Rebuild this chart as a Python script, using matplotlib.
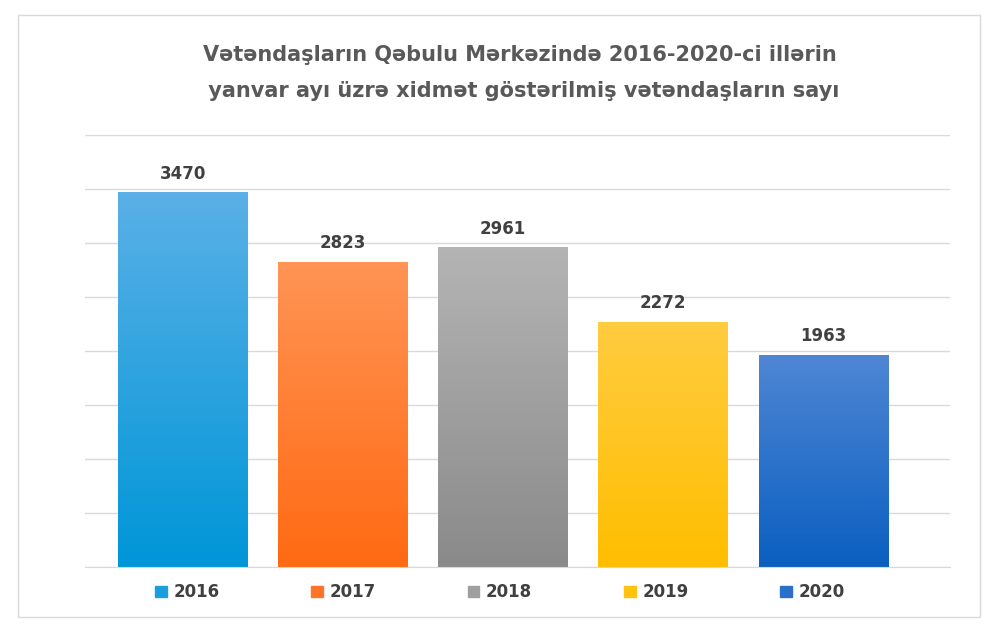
import matplotlib
matplotlib.use("Agg")
import matplotlib.pyplot as plt
import numpy as np
from matplotlib.patches import Rectangle, Patch

years = ["2016", "2017", "2018", "2019", "2020"]
values = [3470, 2823, 2961, 2272, 1963]
tops = ["#5ab0e6", "#ff9455", "#b4b4b4", "#ffcc40", "#4f86d4"]
bottoms = ["#0096d8", "#ff6a12", "#8a8a8a", "#ffbe00", "#0a5fc0"]
legend_cols = ["#1a9fde", "#ff7428", "#a0a0a0", "#ffc20e", "#2a6fcc"]

fig = plt.figure(figsize=(10, 6.37), dpi=100)
fig.patches.append(Rectangle((0.018, 0.031), 0.962, 0.945, transform=fig.transFigure,
                             fill=False, edgecolor="#d9d9d9", lw=1))
ax = fig.add_axes([0.085, 0.11, 0.865, 0.678])
ax.set_xlim(-0.61, 4.79)
ax.set_ylim(0, 4000)
ax.set_yticks(np.arange(0, 4001, 500))
ax.yaxis.grid(True, color="#d9d9d9", lw=1)
ax.set_axisbelow(True)
ax.tick_params(left=False, bottom=False, labelleft=False, labelbottom=False)
for s in ["top", "right", "left"]:
    ax.spines[s].set_visible(False)
ax.spines["bottom"].set_color("#d9d9d9")

w = 0.81
bars = ax.bar(range(len(values)), values, width=w, color="none")
for i, (b, v) in enumerate(zip(bars, values)):
    c1 = np.array(matplotlib.colors.to_rgb(tops[i]))
    c2 = np.array(matplotlib.colors.to_rgb(bottoms[i]))
    t = np.linspace(0, 1, 100)[:, None]
    grad = (c1 * (1 - t) + c2 * t)[:, None, :]
    im = ax.imshow(grad, extent=[i - w / 2, i + w / 2, 0, v], aspect="auto", zorder=2)
    im.set_clip_path(b)
    ax.text(i, v + 90, str(v), ha="center", va="bottom", fontsize=12,
            fontweight="bold", color="#404040")

fig.text(0.52, 0.886, "Vətəndaşların Qəbulu Mərkəzində 2016-2020-ci illərin\n yanvar ayı üzrə xidmət göstərilmiş vətəndaşların sayı",
         ha="center", va="center", fontsize=15, fontweight="bold", color="#595959",
         linespacing=2.0)

handles = [Patch(color=c) for c in legend_cols]
leg = fig.legend(handles, years, loc="center", bbox_to_anchor=(0.5, 0.07), ncol=5,
                 frameon=False, handlelength=0.7, handleheight=0.7, columnspacing=5.5,
                 handletextpad=0.4, prop={"weight": "bold", "size": 12})
for t in leg.get_texts():
    t.set_color("#404040")

fig.savefig("out.png", dpi=100, facecolor="white")
